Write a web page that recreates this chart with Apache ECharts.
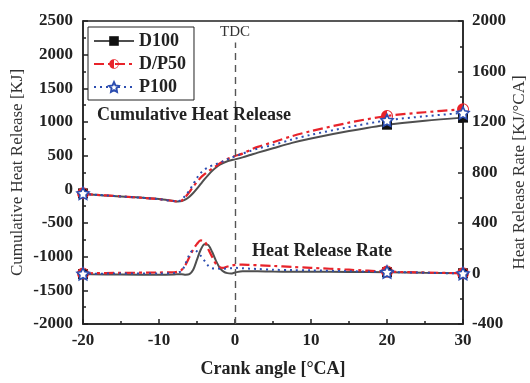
<!DOCTYPE html>
<html>
<head>
<meta charset="utf-8">
<script src="https://cdn.jsdelivr.net/npm/echarts@6/dist/echarts.min.js"></script>
<style>
  html, body { margin: 0; padding: 0; background: #fff; }
  #chart { width: 530px; height: 383px; }
</style>
</head>
<body>
<div id="chart"></div>
<script>
// crank angle points (°CA)
const crankAngle = [-20, -19, -15, -10, -8, -7.5, -7, -6.5, -6, -5.5, -5, -4.5, -4, -3.5, -3, -2.5, -2, -1.5, -1, -0.5, 0, 1, 2, 3, 5, 7.5, 10, 15, 20, 25, 30];
const markerAngles = [-20, 20, 30];

// cumulative heat release [KJ]
const chrD100  = [-60, -75, -105, -145, -175, -180, -175, -150, -110, -55, 10, 80, 150, 215, 275, 325, 365, 395, 418, 433, 445, 475, 510, 545, 610, 690, 755, 865, 960, 1020, 1065];
const chrDP50  = [-60, -75, -105, -145, -175, -178, -165, -110, -40, 40, 110, 175, 225, 270, 310, 345, 385, 420, 450, 472, 495, 530, 585, 630, 700, 790, 865, 990, 1090, 1145, 1190];
const chrP100  = [-60, -75, -105, -145, -175, -175, -150, -90, -15, 75, 170, 245, 295, 330, 355, 375, 395, 420, 445, 470, 490, 530, 570, 605, 660, 740, 810, 925, 1025, 1085, 1135];

// heat release rate [KJ/°CA]
const hrrD100  = [-5, -6, -8, -10, -8, -6, -5, -10, -5, 30, 110, 190, 232, 225, 170, 100, 45, 15, 3, 0, 8, 18, 18, 17, 15, 14, 14, 12, 10, 5, 2];
const hrrDP50  = [0, 2, 5, 8, 10, 15, 30, 70, 130, 190, 235, 262, 255, 190, 130, 75, 50, 45, 55, 62, 68, 70, 68, 66, 60, 52, 45, 30, 15, 8, 2];
const hrrP100  = [-2, -2, 0, 0, 3, 8, 20, 80, 150, 185, 175, 140, 100, 60, 42, 40, 38, 38, 40, 42, 45, 42, 38, 36, 30, 27, 25, 18, 12, 6, 0];

const xTicks = { min: -20, max: 30, interval: 10 };
const leftTicks = { min: -2000, max: 2500, interval: 500 };
const rightTicks = { min: -400, max: 2000, interval: 400 };

const serif = '"Liberation Serif", "DejaVu Serif", serif';
const gray = '#4f4f4f';
const red = '#e8232a';
const blue = '#2c4db0';

const starPath = 'path://M0,-10 L2.9,-4 9.5,-3.1 4.8,1.5 5.9,8.1 0,5 -5.9,8.1 -4.8,1.5 -9.5,-3.1 -2.9,-4 Z';
const halfCirclePath = 'path://M0,-10 A10,10 0 0,0 0,10 Z M0,-10 A10,10 0 0,1 0,10 L0,8.4 A8.4,8.4 0 0,0 0,-8.4 Z';

function build(values) {
  return crankAngle.map((x, i) => {
    const item = { value: [x, values[i]] };
    if (markerAngles.indexOf(x) < 0) item.symbol = 'none';
    return item;
  });
}

const styles = {
  'D100': { symbol: 'rect', symbolSize: 10, line: { color: gray, width: 2, type: 'solid' }, item: { color: '#111' } },
  'D/P50': { symbol: halfCirclePath, symbolSize: 12, line: { color: red, width: 2.2, type: [10, 4, 3, 4] }, item: { color: red } },
  'P100': { symbol: starPath, symbolSize: 12, line: { color: blue, width: 2, type: [2, 4] }, item: { color: '#fff', borderColor: blue, borderWidth: 1.6 } }
};

function makeSeries(name, values, yAxisIndex) {
  const s = styles[name];
  return {
    name: name,
    type: 'line',
    yAxisIndex: yAxisIndex,
    smooth: 0.3,
    symbol: s.symbol,
    symbolSize: s.symbolSize,
    lineStyle: s.line,
    itemStyle: s.item,
    z: name === 'D100' ? 3 : 4,
    data: build(values)
  };
}

const series = [
  makeSeries('D100', chrD100, 0),
  makeSeries('D/P50', chrDP50, 0),
  makeSeries('P100', chrP100, 0),
  makeSeries('D100', hrrD100, 1),
  makeSeries('D/P50', hrrDP50, 1),
  makeSeries('P100', hrrP100, 1)
];

// TDC line
series[0].markLine = {
  silent: true,
  symbol: 'none',
  lineStyle: { color: '#555', type: [7, 5], width: 1.4 },
  label: { show: true, position: 'end', distance: 3, formatter: 'TDC', color: '#333', fontFamily: serif, fontSize: 15 },
  data: [[{ coord: [0, -2000] }, { coord: [0, 2180] }]]
};

const tickFont = { fontFamily: serif, fontWeight: 'bold', fontSize: 17, color: '#222', formatter: v => String(v) };
const axisLine = { show: true, onZero: false, lineStyle: { color: '#222', width: 1.5 } };
const axisTick = { inside: true, length: 5, lineStyle: { color: '#222', width: 1.5 } };
const minorTick = { show: true, splitNumber: 2, length: 3, lineStyle: { color: '#222', width: 1.5 } };

var chart = echarts.init(document.getElementById('chart'));
chart.setOption({
  animation: false,
  grid: { left: 83, right: 67, top: 21, bottom: 59, outerBoundsMode: 'none', containLabel: false, show: true, borderColor: '#222', borderWidth: 1.5 },
  legend: {
    orient: 'vertical',
    left: 88,
    top: 27,
    padding: [5, 8, 4, 5],
    itemGap: 5,
    itemWidth: 40,
    itemHeight: 12,
    borderColor: '#222',
    borderWidth: 1,
    backgroundColor: '#fff',
    textStyle: { fontFamily: serif, fontWeight: 'bold', fontSize: 18, color: '#222' },
    data: ['D100', 'D/P50', 'P100']
  },
  xAxis: {
    type: 'value',
    min: xTicks.min,
    max: xTicks.max,
    interval: xTicks.interval,
    name: 'Crank angle [°CA]',
    nameLocation: 'middle',
    nameGap: 36,
    nameMoveOverlap: false,
    nameTextStyle: { fontFamily: serif, fontWeight: 'bold', fontSize: 18, color: '#222' },
    axisLine: axisLine,
    axisTick: axisTick,
    minorTick: minorTick,
    axisLabel: Object.assign({ margin: 8 }, tickFont),
    splitLine: { show: false }
  },
  yAxis: [
    {
      type: 'value',
      min: leftTicks.min,
      max: leftTicks.max,
      interval: leftTicks.interval,
      name: 'Cumulative Heat Release [KJ]',
      nameLocation: 'middle',
      nameGap: 57,
      nameMoveOverlap: false,
      nameTextStyle: { fontFamily: serif, fontSize: 17, color: '#333' },
      axisLine: axisLine,
      axisTick: axisTick,
      minorTick: minorTick,
      axisLabel: Object.assign({ margin: 10 }, tickFont),
      splitLine: { show: false }
    },
    {
      type: 'value',
      position: 'right',
      min: rightTicks.min,
      max: rightTicks.max,
      interval: rightTicks.interval,
      name: 'Heat Release Rate [KJ/°CA]',
      nameLocation: 'middle',
      nameGap: 48,
      nameRotate: 90,
      nameMoveOverlap: false,
      nameTextStyle: { fontFamily: serif, fontSize: 17, color: '#333' },
      axisLine: axisLine,
      axisTick: axisTick,
      minorTick: minorTick,
      axisLabel: Object.assign({ margin: 9 }, tickFont),
      splitLine: { show: false }
    }
  ],
  graphic: [
    { type: 'text', left: 97, top: 106, z: 10, style: { text: 'Cumulative Heat Release', font: 'bold 18px ' + serif, fill: '#222' } },
    { type: 'text', left: 252, top: 242, z: 10, style: { text: 'Heat Release Rate', font: 'bold 18px ' + serif, fill: '#222' } }
  ],
  series: series
});
</script>
</body>
</html>
